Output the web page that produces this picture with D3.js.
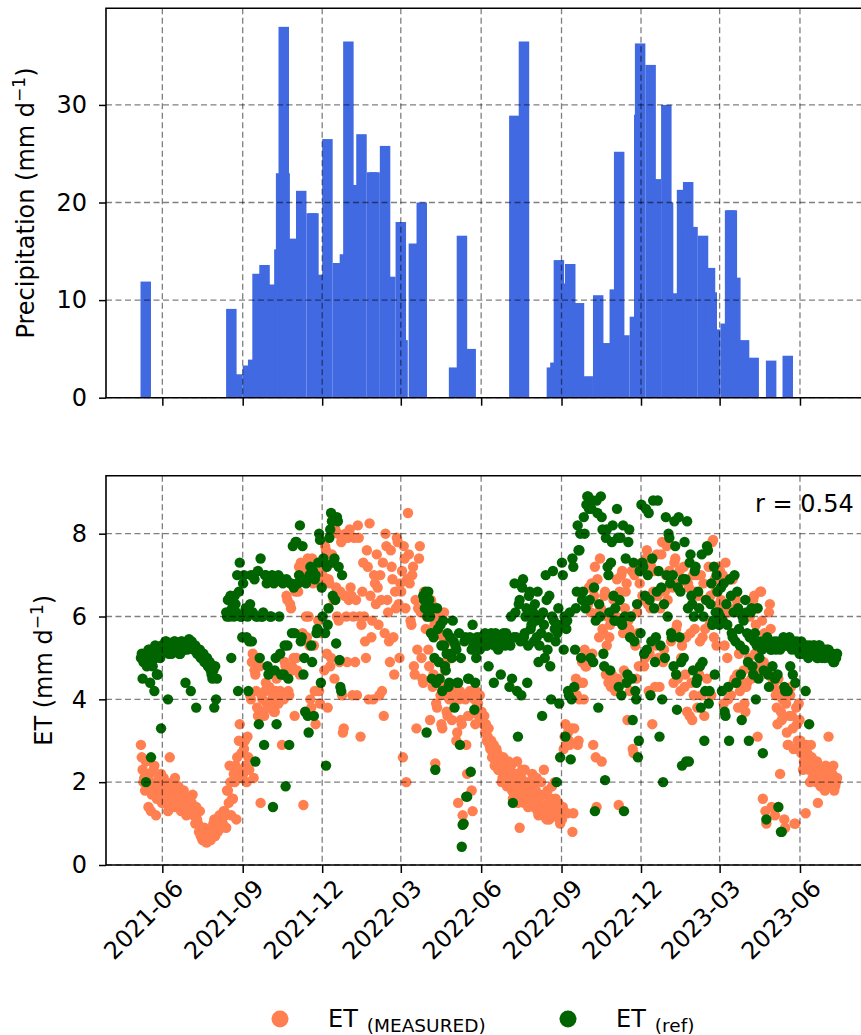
<!DOCTYPE html>
<html>
<head>
<meta charset="utf-8">
<script src="https://cdn.jsdelivr.net/npm/d3@7"></script>
<style>
  html, body { margin: 0; padding: 0; background: #fff; }
  svg { display: block; font-family: "DejaVu Sans", sans-serif; }
</style>
</head>
<body>
<svg id="chart" width="861" height="1035"></svg>
<script>
// ---------------- data ----------------
const tickLabels = ["2021-06", "2021-09", "2021-12", "2022-03", "2022-06",
                    "2022-09", "2022-12", "2023-03", "2023-06"];
const precipTicks = [0, 10, 20, 30];
const etTicks = [0, 2, 4, 6, 8];

// Precipitation periods: [days after origin, mm d-1]
const precipOrigin = "2021-05-01";
const precipPeriodDays = 12;
const precipBars = [
  [6, 11.9], [104, 9.1], [111, 2.4], [123, 3.3], [129, 3.9], [134, 12.7],
  [142, 13.6], [148, 11.6], [159, 15.2], [161, 23.0], [164, 38.0], [165, 23.0],
  [172, 16.3], [184, 21.2], [196, 18.9], [198, 18.9], [209, 12.6], [214, 26.5],
  [226, 13.8], [234, 14.7], [238, 36.5], [242, 21.8], [253, 27.0], [265, 23.1],
  [268, 23.1], [280, 25.8], [286, 12.4], [298, 18.0], [300, 5.9], [313, 15.8],
  [322, 20.0], [359, 3.1], [368, 16.6], [378, 5.0], [428, 28.9], [439, 36.5],
  [471, 3.1], [475, 3.6], [479, 14.1], [481, 11.7], [492, 13.7], [502, 9.7],
  [512, 2.2], [524, 10.5], [532, 5.6], [543, 11.1], [548, 25.2], [554, 6.4],
  [566, 8.3], [571, 29.0], [572, 36.3], [584, 34.1], [590, 22.4], [602, 30.0],
  [604, 20.0], [609, 10.7], [620, 21.3], [627, 22.1], [632, 17.5], [644, 16.6],
  [652, 13.3], [654, 10.8], [658, 7.0], [670, 7.6], [675, 19.2], [677, 19.2],
  [681, 12.3], [691, 5.9], [702, 4.1], [722, 3.8], [741, 4.3]
];

// Daily ET readings, one row per month (spread evenly across each month)
const etStart = "2021-05-07";
const etEnd = "2023-07-14";
const etMonths = [
  "2021-05", "2021-06", "2021-07", "2021-08", "2021-09", "2021-10", "2021-11", "2021-12",
  "2022-01", "2022-02", "2022-03", "2022-04", "2022-05", "2022-06", "2022-07", "2022-08",
  "2022-09", "2022-10", "2022-11", "2022-12", "2023-01", "2023-02", "2023-03", "2023-04",
  "2023-05", "2023-06", "2023-07"
];

const etMeasured = [
  [2.9,2.6, 2.3,2.0, 2.1,1.8, 2.5,2.2, 1.9,1.4, 2.2,2.0, 1.3,1.7, 1.8,2.3, 2.4,1.9, 1.2,1.6, 2.0,2.1, 1.7,1.9, 2.2,1.5],
  [1.9,2.1, 1.5,1.7, 2.0,1.6, 1.3,1.9, 2.6,1.5, 1.8,2.0, 1.6,1.4, 2.1,1.8, 1.4,1.7, 1.9,1.5, 1.7,1.3, 1.3,1.6, 1.8,1.4, 1.5,1.2, 1.6,1.3],
  [1.6,1.4, 1.3,1.5, 1.7,1.2, 1.2,1.0, 1.4,1.1, 1.0,0.8, 1.3,0.7, 0.8,0.6, 0.6,0.9, 0.7,0.55, 0.55,0.7, 0.65,0.6, 0.6,0.8, 0.9,1.0, 1.1,0.7],
  [1.1,0.9, 0.8,1.0, 1.2,0.9, 0.9,1.1, 1.0,1.3, 1.3,1.2, 0.9,1.8, 1.8,1.5, 2.4,2.0, 1.2,1.6, 1.6,2.2, 2.0,2.4, 1.1,2.6, 2.3,3.0, 3.4,2.1, 2.7,2.2],
  [2.2,2.8, 3.0,2.4, 2.0,3.1, 2.6,2.3, 4.1,4.0, 4.9,5.1, 2.1,4.7, 4.6,4.2, 3.8,3.6, 5.0,4.8, 1.5,4.1, 4.0,3.7, 3.6,4.2, 4.4,3.9, 3.9,3.8],
  [4.3,3.9, 3.8,4.0, 4.1,3.7, 3.7,4.2, 4.5,3.9, 3.9,4.1, 4.2,4.0, 2.9,4.6, 4.0,4.9, 4.8,6.5, 6.4,4.2, 4.1,6.3, 6.2,4.8, 4.7,5.0, 3.6,6.6],
  [5.0,4.7, 6.6,7.2, 4.6,7.3, 7.2,5.6, 1.45,7.0, 7.1,6.0, 5.5,7.4, 6.0,5.3, 4.0,3.8, 7.4,6.8, 5.3,4.2, 3.4,7.3, 6.9,5.9, 4.2,3.9, 5.6,7.1],
  [7.0,6.8, 4.7,7.7, 7.6,5.1, 3.8,6.9, 6.8,4.8, 5.0,7.5, 7.3,6.4, 4.5,8.1, 6.7,6.0, 8.0,5.9, 4.9,6.6, 7.8,4.1, 3.2,3.3, 6.5,8.0, 6.0,4.9, 7.9,6.4],
  [8.1,6.7, 6.5,4.1, 6.0,7.9, 4.9,6.4, 4.1,8.2, 7.9,6.0, 3.1,5.8, 6.6,7.3, 6.0,5.4, 5.0,7.6, 7.2,4.0, 8.25,6.5, 5.5,5.9, 4.0,7.0, 6.8,6.3],
  [7.5,6.7, 5.8,4.1, 7.0,6.4, 4.2,7.3, 3.6,5.6, 8.0,7.7, 6.4,6.1, 5.4,4.9, 7.6,7.2, 6.9,5.5, 4.6,6.6, 6.2,7.9, 7.8,6.3, 5.0,6.8],
  [6.6,7.1, 2.6,7.7, 7.4,6.2, 2.0,6.9, 8.5,7.5, 6.8,5.9, 5.8,7.0, 7.2,4.8, 4.6,6.4, 3.3,5.2, 6.2,7.4, 7.7,6.1, 5.0,4.5, 4.4,6.6, 6.5,5.7, 6.0,6.3],
  [5.2,4.8, 3.5,6.4, 6.3,4.3, 4.6,5.8, 2.45,3.9, 3.8,6.0, 5.6,4.4, 4.1,3.4, 3.3,5.5, 6.1,4.7, 4.9,3.7, 3.6,5.1, 4.0,4.1, 5.4,3.5, 4.2,4.0],
  [4.1,4.2, 3.0,3.2, 1.5,4.0, 4.2,3.5, 3.4,1.2, 1.0,4.1, 4.0,2.9, 2.2,3.6, 3.6,4.2, 4.1,1.8, 1.3,4.1, 4.0,3.4, 4.2,3.9, 3.9,3.6, 4.1,3.5],
  [3.7,3.5, 3.4,3.6, 3.2,3.4, 3.0,3.1, 3.3,2.9, 2.8,3.0, 2.6,2.7, 2.9,2.4, 2.5,2.8, 2.7,2.3, 2.3,2.6, 2.4,2.0, 2.1,2.6, 2.5,2.2, 2.2,1.9],
  [2.3,2.5, 1.9,2.1, 2.4,1.8, 1.6,2.2, 2.0,1.7, 2.2,2.5, 1.5,1.9, 0.9,1.6, 2.1,2.3, 1.8,1.5, 2.3,1.9, 1.6,2.0, 1.4,1.7, 2.0,1.5, 1.7,2.2, 1.9,1.4],
  [1.5,1.8, 2.1,1.3, 1.2,1.6, 1.7,2.0, 1.4,1.2, 2.3,1.7, 1.3,1.1, 1.8,1.5, 1.1,1.3, 1.6,1.9, 1.4,1.2, 2.0,1.6, 1.2,1.4, 1.5,1.1, 1.0,1.3],
  [1.1,1.4, 2.8,3.1, 3.4,2.9, 1.25,3.2, 3.0,2.9, 4.2,3.3, 0.8,1.25, 3.3,4.3, 4.5,4.1, 2.9,3.0, 4.0,4.4, 5.0,4.9, 4.4,4.0, 5.2,4.8, 4.8,5.0],
  [6.3,6.7, 5.0,6.1, 6.8,5.1, 2.9,6.5, 7.2,2.6, 1.4,6.9, 6.1,5.5, 7.4,6.2, 2.5,5.7, 5.6,6.5, 6.6,4.6, 5.3,6.0, 4.4,5.5, 5.8,4.3, 4.6,4.5, 6.4,5.9],
  [4.2,6.0, 6.9,4.5, 1.45,6.6, 5.9,7.0, 7.1,5.6, 4.7,6.2, 6.6,6.8, 3.5,5.9, 5.7,4.2, 6.0,7.1, 2.8,2.7, 7.0,5.3, 4.5,6.1, 5.6,4.8, 6.8,7.2],
  [7.3,6.5, 6.4,4.8, 5.0,7.4, 7.6,6.3, 4.2,5.1, 6.2,7.2, 3.4,6.6, 7.1,4.3, 5.3,7.5, 6.5,5.0, 4.3,6.2, 7.5,7.8, 4.9,5.2, 6.6,7.0, 7.7,6.4],
  [7.8,7.1, 7.0,5.4, 5.5,6.7, 4.4,7.3, 7.4,5.7, 5.8,4.5, 6.8,7.1, 4.2,5.0, 5.3,6.9, 7.2,4.3, 4.6,5.5, 3.7,6.8, 6.7,3.6, 5.6,4.4, 3.5,7.0, 4.1,5.7],
  [6.6,7.0, 3.8,6.5, 4.6,5.4, 7.0,4.1, 5.5,6.8, 3.6,5.7, 6.4,4.5, 7.6,7.2, 5.8,6.5, 4.1,7.8, 7.85,5.5, 6.9,6.6, 5.3,7.1, 7.2,6.3],
  [7.1,6.4, 6.3,7.0, 3.9,5.3, 7.3,6.1, 5.0,4.0, 6.1,6.9, 4.1,5.6, 6.9,4.4, 4.5,6.2, 6.4,4.6, 3.8,5.1, 4.2,4.4, 5.2,6.0, 4.7,3.9, 3.7,4.3],
  [4.4,4.9, 5.0,6.0, 6.1,4.5, 4.7,6.4, 6.5,5.1, 5.8,6.2, 3.1,4.6, 4.8,6.6, 6.6,5.9, 1.6,4.9, 5.6,1.3, 1.0,4.7, 4.6,6.1, 6.3,5.7, 1.4,4.5],
  [4.3,4.4, 1.2,4.1, 3.8,3.4, 4.5,4.2, 2.2,3.7, 3.5,4.0, 4.0,1.1, 0.9,3.9, 3.2,2.9, 2.9,3.6, 4.1,4.3, 3.6,3.3, 2.8,1.0, 1.0,3.8, 3.4,3.0, 3.9,3.5],
  [3.0,2.7, 2.8,2.3, 2.5,2.6, 1.25,2.9, 2.7,2.4, 2.3,2.0, 2.9,2.6, 2.1,2.4, 2.4,2.2, 2.0,2.5, 1.5,2.1, 2.2,1.9, 1.9,2.3, 2.3,2.0, 1.8,2.4],
  [2.1,2.3, 3.1,2.0, 1.9,2.2, 2.2,2.4, 1.8,1.9, 2.0,2.1]
];

const etRef = [
  [5.0,5.1, 4.5,4.9, 5.1,5.0, 2.0,4.8, 4.9,5.2, 5.2,4.4, 2.6,5.0, 4.8,5.1, 4.2,5.3, 5.0,4.6, 4.6,5.2, 5.1,5.0, 3.3,5.3],
  [5.3,5.2, 5.2,5.4, 5.4,5.3, 4.0,5.1, 5.2,5.3, 5.1,5.2, 5.3,5.4, 5.4,5.2, 5.2,5.3, 5.3,5.1, 5.1,5.4, 5.4,5.3, 5.3,5.2, 4.4,5.3, 5.2,5.4],
  [5.45,5.3, 4.2,5.4, 5.3,5.2, 5.2,5.3, 3.8,5.1, 5.1,5.2, 5.2,5.0, 5.0,5.1, 5.1,4.9, 4.9,5.0, 5.0,4.8, 4.8,4.9, 4.7,4.6, 4.5,4.7, 3.8,4.8],
  [4.0,4.5, null,null, null,null, null,null, null,null, null,null, 6.1,6.0, 6.4,6.1, 6.0,6.5, 5.0,6.2, 6.2,6.0, 6.5,6.3, 6.1,7.0, 4.2,6.6, 7.3,6.0, 6.0,5.5],
  [6.8,7.0, 6.1,6.2, 5.5,6.0, 4.2,5.4, 6.3,7.0, 5.4,6.1, 7.0,6.9, 2.5,6.0, 6.0,7.1, 3.4,5.0, 7.4,6.0, 6.0,6.1, 2.9,7.0, 7.0,6.8, 4.8,4.6],
  [6.9,6.0, 6.0,7.0, 1.4,6.8, 4.7,5.0, 3.4,6.9, 7.0,6.0, 5.1,4.6, 6.9,6.8, 4.6,5.3, 1.9,6.9, 5.3,4.5, 2.9,6.8, 6.8,5.6, 7.7,6.7, 5.6,7.8],
  [7.8,6.8, 6.8,7.0, 8.2,5.4, 5.5,7.7, 4.6,5.0, 3.7,6.8, 6.9,3.6, 3.2,7.0, 7.2,5.3, 4.9,7.1, 3.6,6.9, 7.0,5.6, 5.7,7.3, 8.0,7.85, 4.4,6.7],
  [6.0,7.4, 7.3,5.6, 2.4,7.2, 5.8,6.2, 7.9,8.1, 8.5,8.3, 6.5,7.3, 7.4,6.4, 5.35,8.4, 8.3,7.2, 4.95,4.3, 4.2,7.0, null,null, null,null, null,null, null,null],
  [],
  [],
  [null,null, null,null, null,null, null,null, null,null, null,null, null,null, null,null, null,null, null,null, null,null, null,null, null,null, 6.5,6.4, 6.2,6.6, 3.2,6.0],
  [6.6,6.4, 6.0,5.6, 4.5,6.2, 5.5,5.0, 2.3,4.4, 6.2,5.7, 4.9,4.5, 5.8,5.3, 4.2,5.9, 5.3,4.8, 4.7,5.1, 5.6,4.3, 4.4,5.5, 5.1,5.0, 5.9,5.4],
  [3.8,5.3, 5.2,4.4, 4.4,5.6, 2.9,5.0, 0.44,0.97, 1.0,5.4, 5.5,1.65, 1.65,4.5, 4.5,5.5, 2.25,5.2, 5.8,5.3, 3.75,4.4, 5.0,5.5, 5.4,5.3, 5.2,5.5],
  [5.5,5.4, 5.4,5.5, 5.6,5.3, 5.3,5.5, 4.8,5.4, 5.5,5.6, 5.4,5.5, 4.4,5.3, 5.6,5.4, 5.5,5.2, 5.3,5.5, 4.6,5.4, 5.5,5.6, 5.4,5.3, 5.6,5.5],
  [5.4,5.5, 4.3,5.3, 6.0,4.5, 1.5,5.5, 6.8,6.1, 5.5,4.2, 3.1,6.3, 6.4,5.4, 4.1,6.7, 6.9,5.5, 5.6,6.0, 6.2,4.4, 5.3,6.5, 6.6,5.7, 5.8,6.0, 6.1,5.4],
  [6.3,5.9, 5.5,6.6, 4.9,5.3, 6.0,5.6, 3.6,6.1, 5.8,5.0, 7.0,6.4, 5.2,5.5, 6.5,4.8, 4.0,6.0, 7.1,5.9, 5.7,5.4, 2.0,5.6, 6.2,3.9, 2.6,5.8],
  [7.3,7.0, 5.2,6.0, 3.1,5.7, 5.9,4.2, 4.1,6.1, 2.55,4.0, 7.4,7.2, 4.3,5.2, 6.2,6.6, 8.2,7.6, 7.6,8.0, 5.0,6.4, 6.6,8.4, 8.0,6.2, 8.7,8.9],
  [8.9,8.6, 6.4,5.0, 8.6,8.8, 4.9,6.7, 1.3,5.9, 8.8,8.5, 3.8,6.3, 6.0,8.9, 8.4,8.1, 5.1,4.8, 2.05,7.9, 8.1,7.2, 7.0,6.1, 4.7,7.3, 7.8,8.2, 6.5,5.9],
  [6.2,5.9, 8.6,7.9, 4.3,6.4, 7.9,4.1, 5.8,8.2, 1.3,6.0, 7.4,4.4, 4.6,7.8, 8.1,5.5, 6.0,4.5, 3.5,7.3, 5.4,4.2, 4.0,6.3, 2.6,3.0, 7.1,5.6],
  [8.7,7.3, 7.2,5.1, 6.5,8.6, 5.2,7.0, 8.5,6.4, 4.1,5.4, 7.4,8.8, 6.2,4.9, 5.5,6.6, 8.8,7.1, 3.1,5.3, 6.7,4.0, 2.0,6.3, 5.0,8.4, 7.0,6.0],
  [8.0,7.9, 6.8,5.6, 5.5,7.0, 4.8,8.3, 7.7,4.6, 3.75,6.7, 8.4,5.5, 6.6,4.9, 2.4,6.9, 5.0,7.8, 6.9,2.5, 8.3,6.2, 2.5,7.3, 7.5,6.5, 6.3,4.7, 6.0,7.1],
  [7.2,4.4, 4.5,6.6, 6.2,4.8, 3.8,7.5, 4.9,6.0, 3.0,4.2, 6.4,7.7, 7.6,3.9, 4.2,6.3, 6.8,5.8, 5.9,7.2, 4.6,6.1, 7.0,6.6, 6.1,5.8],
  [6.0,6.7, 4.2,5.9, 6.8,3.7, 3.6,6.3, 5.8,4.3, 3.0,6.9, 6.5,5.6, 5.5,6.1, 7.0,5.4, 4.4,6.6, 6.2,5.7, 5.3,4.6, 3.5,6.0, 5.9,5.2, 6.4,6.1],
  [5.6,4.9, 3.0,5.5, 6.1,6.2, 4.8,4.6, 5.4,5.6, 4.0,5.3, 6.2,4.5, 5.0,5.4, 5.3,5.2, 2.7,4.7, 5.4,5.3, 1.1,5.5, 4.6,4.3, 5.3,5.2, 5.2,4.8],
  [5.3,5.4, 4.5,5.2, 5.4,4.6, 1.4,5.3, 5.2,0.8, 0.8,5.4, 5.5,4.3, 4.2,5.3, 5.3,4.2, 5.4,5.5, 4.8,5.3, 5.2,4.6, 5.3,5.4, 4.4,5.2, 5.4,5.3, 5.2,5.1],
  [5.2,5.4, 5.3,5.1, 5.1,5.3, 4.2,5.2, 5.3,5.0, 3.4,5.3, 5.2,5.1, 5.1,5.3, 5.3,5.2, 5.2,5.0, 5.0,5.3, 5.3,5.2, 5.1,5.0, 5.2,5.1, 5.0,5.2],
  [5.1,5.2, 5.2,5.0, 5.0,5.1, 5.1,4.9, 4.9,5.0, 5.0,5.1]
];

const correlation = 0.54;

// ---------------- helpers ----------------
const parseDay = d3.utcParse("%Y-%m-%d");
const parseMonth = d3.utcParse("%Y-%m");
const origin = parseDay(precipOrigin);
const dayAfter = n => d3.utcDay.offset(origin, n);

// place each month's readings evenly inside the month (clipped to the record)
function monthlyPoints(rows) {
  const s0 = parseDay(etStart), s1 = parseDay(etEnd);
  const pts = [];
  rows.forEach((vals, k) => {
    const m0 = parseMonth(etMonths[k]);
    const a = Math.max(+m0, +s0);
    const b = Math.min(+d3.utcMonth.offset(m0, 1), +s1);
    const n = vals.length;
    vals.forEach((v, i) => {
      if (v == null) return;
      pts.push({ date: new Date(a + (i + 0.5) * (b - a) / n), value: v });
    });
  });
  return pts;
}

// ---------------- layout ----------------
const W = 861, H = 1035;
const L = 106, R = 871.6;
const P = { top: 8.3, bottom: 397.7 };
const E = { top: 475.7, bottom: 865 };
const FONT = 24;

const svg = d3.select("#chart");
svg.append("rect").attr("width", W).attr("height", H).attr("fill", "#fff");

const x = d3.scaleUtc()
  .domain([new Date(Date.UTC(2021, 2, 28, 12)), new Date(Date.UTC(2023, 7, 22))])
  .range([L, R]);
const yP = d3.scaleLinear().domain([0, 39.9]).range([P.bottom, P.top]);
const yE = d3.scaleLinear().domain([0, 9.4]).range([E.bottom, E.top]);
const tickDates = tickLabels.map(parseMonth);

svg.append("defs").selectAll("clipPath")
  .data([["clipP", P], ["clipE", E]])
  .join("clipPath").attr("id", d => d[0])
  .append("rect")
  .attr("x", L).attr("y", d => d[1].top)
  .attr("width", R - L).attr("height", d => d[1].bottom - d[1].top);

// ---------------- precipitation panel ----------------
svg.append("g").attr("clip-path", "url(#clipP)")
  .selectAll("rect").data(precipBars).join("rect")
  .attr("x", d => x(dayAfter(d[0])))
  .attr("width", d => x(dayAfter(d[0] + precipPeriodDays)) - x(dayAfter(d[0])))
  .attr("y", d => yP(d[1]))
  .attr("height", d => yP(0) - yP(d[1]))
  .attr("fill", "#4169e1");

// ---------------- ET panel ----------------
const measuredPts = monthlyPoints(etMeasured);
const refPts = monthlyPoints(etRef);
const gE = svg.append("g").attr("clip-path", "url(#clipE)");
gE.append("g").selectAll("circle").data(measuredPts).join("circle")
  .attr("cx", d => x(d.date)).attr("cy", d => yE(d.value)).attr("r", 5.2)
  .attr("fill", "#ff7f50");
gE.append("g").selectAll("circle").data(refPts).join("circle")
  .attr("cx", d => x(d.date)).attr("cy", d => yE(d.value)).attr("r", 5.2)
  .attr("fill", "#006400");

// ---------------- grids, spines, axes ----------------
function panelFrame(yScale, box, yTicks, showXLabels) {
  const g = svg.append("g");
  const grid = g.append("g")
    .attr("stroke", "#000").attr("stroke-opacity", 0.5)
    .attr("stroke-width", 1.3).attr("stroke-dasharray", "6,3.5");
  grid.selectAll("line.h").data(yTicks).join("line").attr("class", "h")
    .attr("x1", L).attr("x2", R)
    .attr("y1", d => yScale(d)).attr("y2", d => yScale(d));
  grid.selectAll("line.v").data(tickDates).join("line").attr("class", "v")
    .attr("x1", d => x(d)).attr("x2", d => x(d))
    .attr("y1", box.top).attr("y2", box.bottom);

  const yAxis = g.append("g").attr("transform", `translate(${L},0)`)
    .call(d3.axisLeft(yScale).tickValues(yTicks).tickSize(7).tickPadding(12)
      .tickFormat(d3.format("d")));
  const xAxis = g.append("g").attr("transform", `translate(0,${box.bottom})`)
    .call(d3.axisBottom(x).tickValues(tickDates).tickSize(8)
      .tickFormat((d, i) => showXLabels ? tickLabels[i] : ""));
  [yAxis, xAxis].forEach(a => {
    a.select(".domain").remove();
    a.selectAll(".tick line").attr("stroke", "#000").attr("stroke-width", 1.5);
    a.selectAll("text").attr("fill", "#000")
      .style("font-family", '"DejaVu Sans", sans-serif').style("font-size", FONT + "px");
  });
  if (showXLabels) {
    xAxis.selectAll(".tick text")
      .attr("x", 0).attr("y", 0).attr("dy", 0)
      .attr("text-anchor", "end")
      .attr("transform", "translate(22,25) rotate(-45)");
  }
  // spines: left, top, bottom
  g.append("path")
    .attr("d", `M${R},${box.top}H${L}V${box.bottom}H${R}`)
    .attr("fill", "none").attr("stroke", "#000").attr("stroke-width", 1.6);
  return g;
}
panelFrame(yP, P, precipTicks, false);
panelFrame(yE, E, etTicks, true);

// axis titles
const t1 = svg.append("text")
  .attr("transform", `translate(34,${(P.top + P.bottom) / 2}) rotate(-90)`)
  .attr("text-anchor", "middle").style("font-size", FONT + "px");
t1.append("tspan").text("Precipitation (mm d");
t1.append("tspan").attr("dy", -9).style("font-size", "17px").text("\u22121");
t1.append("tspan").attr("dy", 9).text(")");

const t2 = svg.append("text")
  .attr("transform", `translate(52,${(E.top + E.bottom) / 2}) rotate(-90)`)
  .attr("text-anchor", "middle").style("font-size", FONT + "px");
t2.append("tspan").text("ET (mm d");
t2.append("tspan").attr("dy", -9).style("font-size", "17px").text("\u22121");
t2.append("tspan").attr("dy", 9).text(")");

// correlation annotation
svg.append("text").attr("x", 755).attr("y", 512)
  .style("font-size", FONT + "px")
  .text(`r = ${correlation.toFixed(2)}`);

// legend
const legendItems = [
  { label: "ET", sub: "(MEASURED)", color: "#ff7f50", cx: 280 },
  { label: "ET", sub: "(ref)", color: "#006400", cx: 568 }
];
const lg = svg.append("g");
legendItems.forEach(it => {
  lg.append("circle").attr("cx", it.cx).attr("cy", 1019).attr("r", 8.5).attr("fill", it.color);
  const t = lg.append("text").attr("x", it.cx + 48).attr("y", 1027).style("font-size", FONT + "px");
  t.append("tspan").text(it.label);
  t.append("tspan").attr("dx", 9).attr("dy", 5).style("font-size", "18.5px").text(it.sub);
});
</script>
</body>
</html>
